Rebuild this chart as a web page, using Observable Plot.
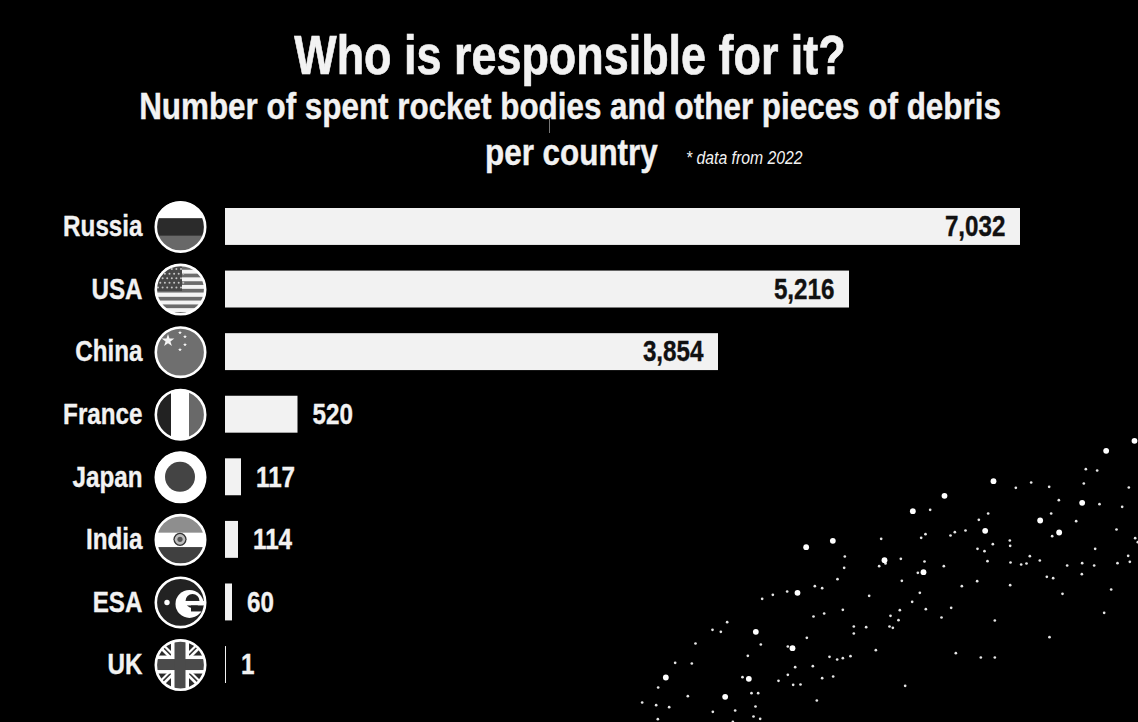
<!DOCTYPE html>
<html lang="en">
<head>
<meta charset="utf-8">
<title>Who is responsible for it?</title>
<script src="https://cdn.jsdelivr.net/npm/d3@7"></script>
<script src="https://cdn.jsdelivr.net/npm/@observablehq/plot@0.6"></script>
<style>
  html, body { margin: 0; padding: 0; background: #000; }
  #page { position: relative; width: 1138px; height: 722px; overflow: hidden; background: #000;
          font-family: "Liberation Sans", sans-serif; color: #f2f2f2; }
  header { position: relative; height: 195px; }
  header div { position: absolute; white-space: nowrap; font-weight: 700; }
  #t1 { left: 0; width: 1140px; text-align: center; top: 24px; font-size: 56px; line-height: 62px; transform: scaleX(0.802); -webkit-text-stroke: 0.7px #f2f2f2; }
  #t2 { left: 0; width: 1140px; text-align: center; top: 85px; font-size: 36px; line-height: 44px; transform: scaleX(0.872); -webkit-text-stroke: 0.4px #f2f2f2; }
  #t3 { left: 485px; top: 131px; font-size: 36px; line-height: 44px; transform: scaleX(0.872); transform-origin: left center; -webkit-text-stroke: 0.4px #f2f2f2; }
  #t4 { left: 686px; top: 147px; font-size: 19px; line-height: 22px; font-style: italic; font-weight: 400; transform: scaleX(0.83); transform-origin: left center; }
  #tick { position: absolute; left: 549px; top: 119px; width: 1px; height: 14px; background: #777; }
  #chart, #sky { position: absolute; }
  #chart { left: 0; top: 195px; }
  #sky { left: 640px; top: 430px; }
  svg { display: block; background: transparent !important; }
</style>
</head>
<body>
<div id="page">
  <header>
    <div id="t1">Who is responsible for it?</div>
    <div id="t2">Number of spent rocket bodies and other pieces of debris</div>
    <div id="t3">per country</div>
    <div id="t4">* data from 2022</div>
    <div id="tick"></div>
  </header>
  <div id="sky"></div>
  <div id="chart"></div>
</div>
<script>
const countries = ["Russia", "USA", "China", "France", "Japan", "India", "ESA", "UK"];
const debris = [7032, 5216, 3854, 520, 117, 114, 60, 1];

// Star field in sky units
const brightX = [1482,1397,1059,912,817,1325,1199,1256,1034,577,497,732,849,471,346,456,76,325,254];
const brightY = [31,61,152,196,242,217,270,306,301,331,350,389,425,487,604,653,741,745,799];
const faintX = [1336,1370,1172,1126,1226,1330,1465,869,1255,1377,1445,1043,1015,1232,1307,1428,975,943,930,855,842,722,1235,1484,1492,1108,1109,1057,1011,1032,1364,613,781,852,1041,1110,1168,1198,1142,1158,1280,1325,1361,1431,1468,1463,611,716,735,910,832,1219,1238,1324,591,784,1010,964,1109,523,545,440,397,365,686,838,1266,1412,815,932,607,778,856,551,519,750,903,774,1391,1063,640,677,747,757,640,260,216,241,499,1227,165,361,442,706,946,322,567,590,607,630,1021,1063,104,154,464,517,442,306,578,545,414,458,480,53,794,142,333,353,529,5,47,86,345,217,284,339,52,359,277];
const faintY = [116,120,156,172,169,159,171,238,209,221,229,249,268,249,272,297,300,305,315,311,322,325,317,323,335,330,346,341,355,362,355,378,385,393,392,396,377,390,402,399,405,398,405,398,394,376,412,407,399,407,427,439,443,431,446,451,452,467,464,467,473,483,493,505,496,487,490,477,514,532,538,539,536,549,558,556,561,569,547,570,588,590,588,592,609,575,598,604,622,620,639,642,648,659,668,676,679,687,683,677,681,681,697,699,710,707,733,740,738,743,751,763,762,771,766,797,788,788,810,816,824,830,828,844,840,858,866,865,874];

const rows = countries.map((country, i) => ({country, value: debris[i]}));
const bright = brightX.map((x, i) => ({x, y: brightY[i]}));
const faint = faintX.map((x, i) => ({x, y: faintY[i]}));

const LIGHT = "#f2f2f2";
const FONT = '"Liberation Sans", sans-serif';

const sky = Plot.plot({
  width: 498, height: 292,
  margin: 0,
  x: {domain: [0, 1494], axis: null},
  y: {domain: [0, 876], range: [0, 292], axis: null},
  style: {background: "transparent"},
  marks: [
    Plot.dot(faint, {x: "x", y: "y", r: 1.35, fill: "#e6e6e6"}),
    Plot.dot(bright, {x: "x", y: "y", r: 2.9, fill: "#fff"})
  ]
});
document.getElementById("sky").append(sky);

// Flag artwork, in icon units around the centre of each badge
function drawFlag(g, name) {
  const rect = (x, y, w, h, f) => g.append("rect").attr("x", x).attr("y", y).attr("width", w).attr("height", h).attr("fill", f);
  const disc = (x, y, r, f) => g.append("circle").attr("cx", x).attr("cy", y).attr("r", r).attr("fill", f);
  const star = (x, y, s, rot = 0) => g.append("path").attr("d", d3.symbol(d3.symbolStar, s)()).attr("fill", "#f4f4f4")
    .attr("transform", `translate(${x},${y}) rotate(${rot})`);
  if (name === "Russia") {
    rect(-26, -26, 52, 18, "#fff"); rect(-26, -8, 52, 17, "#2b2b2b"); rect(-26, 9, 52, 17, "#686868");
  } else if (name === "USA") {
    rect(-26, -26, 52, 52, "#f4f4f4");
    for (let k = 0; k < 7; k++) rect(-26, -23 + k * 7.6 + (k > 3 ? 0.4 : 0), 52, 3.7, "#6c6c6c");
    rect(-26, -26, 28, 28, "#474747");
    for (let r = 0; r < 5; r++) for (let c = 0; c < 6; c++) disc(-22 + c * 4.6 + (r % 2) * 2.3, -20 + r * 4.6, 1, "#c4c4c4");
  } else if (name === "China") {
    rect(-26, -26, 52, 52, "#6f6f6f");
    star(-12, -11, 50);
    star(0, -19, 5); star(5, -15, 5); star(5, -7, 5); star(0, -2, 5);
  } else if (name === "France") {
    rect(-26, -26, 17, 52, "#222"); rect(-9, -26, 18, 52, "#fff"); rect(9, -26, 17, 52, "#696969");
  } else if (name === "Japan") {
    rect(-26, -26, 52, 52, "#fff"); disc(0, 0, 15, "#444");
  } else if (name === "India") {
    rect(-26, -26, 52, 19, "#8e8e8e"); rect(-26, -7, 52, 15, "#fff"); rect(-26, 8, 52, 18, "#404040");
    disc(0, 0, 6.6, "#333"); disc(0, 0, 5.3, "#bbb"); disc(0, 0, 2.6, "#555");
  } else if (name === "ESA") {
    rect(-26, -26, 52, 52, "#222");
    disc(-13, 0.5, 2.7, "#fff");
    disc(9.5, 2, 14, "#fff");
    disc(12.5, -1, 7, "#222");
    rect(4, -1, 24, 4.5, "#fff");
    rect(11, 3.5, 15, 6, "#222");
  } else if (name === "UK") {
    rect(-26, -26, 52, 52, "#2a2a2a");
    for (const a of [45, -45]) rect(-40, -3.2, 80, 6.4, "#fff").attr("transform", `rotate(${a})`);
    for (const a of [45, -45]) rect(-40, -1, 80, 1.5, "#333").attr("transform", `rotate(${a})`);
    rect(-26, -9, 52, 18, "#fff"); rect(-9, -26, 18, 52, "#fff");
    rect(-26, -5.5, 52, 11, "#4b4b4b"); rect(-5.5, -26, 11, 52, "#4b4b4b");
  }
}

const chart = Plot.plot({
  width: 1138, height: 527,
  marginLeft: 225, marginRight: 118, marginTop: 13, marginBottom: 39,
  style: {background: "transparent", fontFamily: FONT},
  // The source draws its bars on a non-proportional scale: each value gets the length shown there
  x: {type: "linear", axis: null,
      domain: [0, 1, 60, 114, 117, 520, 3854, 5216, 7032],
      range: [225, 226, 232, 238, 241, 297.5, 718, 849, 1020]},
  y: {domain: countries, range: [13, 488], paddingInner: 0.41, paddingOuter: 0, round: false, axis: null},
  marks: [
    Plot.axisY({anchor: "left", tickSize: 0, tickPadding: 83, fontSize: 29, fontWeight: 700, fill: LIGHT, fontFamily: FONT, label: null}),
    Plot.barX(rows, {x: "value", y: "country", fill: LIGHT}),
    Plot.text(rows.filter(d => d.value >= 1000), {
      x: "value", y: "country", text: d => d3.format(",")(d.value), textAnchor: "end", dx: -15,
      fontSize: 29, fontWeight: 700, fontFamily: FONT, fill: "#111"
    }),
    Plot.text(rows.filter(d => d.value < 1000), {
      x: "value", y: "country", text: d => d3.format(",")(d.value), textAnchor: "start", dx: 14.5,
      fontSize: 29, fontWeight: 700, fontFamily: FONT, fill: LIGHT
    }),
    Plot.dot(rows, {
      y: "country", frameAnchor: "left", dx: -45, r: 24.7, stroke: "#fff", strokeWidth: 2.6, fill: "none",
      render(index, scales, values, dimensions, context, next) {
        const ring = next(index, scales, values, dimensions, context);
        const wrap = d3.create("svg:g");
        const cx = dimensions.marginLeft - 45;
        const half = scales.scales.y.bandwidth / 2;
        for (const i of index) {
          const cy = values.y[i] + half;
          const id = "flag-clip-" + i;
          const g = wrap.append("g").attr("transform", `translate(${cx},${cy})`);
          g.append("clipPath").attr("id", id).append("circle").attr("r", 25);
          const inner = g.append("g").attr("clip-path", `url(#${id})`);
          drawFlag(inner, rows[i].country);
        }
        wrap.node().append(ring);
        return wrap.node();
      }
    })
  ]
});
document.getElementById("chart").append(chart);

// Only wide fonts are installed: condense the chart's labels to the narrow face of the reference
chart.querySelectorAll("text").forEach(t => {
  const len = t.getComputedTextLength();
  t.setAttribute("textLength", (len * 0.835).toFixed(1));
  t.setAttribute("lengthAdjust", "spacingAndGlyphs");
  t.style.strokeWidth = "0.35px";
  t.style.stroke = "currentColor";
  t.style.paintOrder = "stroke";
});
chart.querySelectorAll("text").forEach(t => { t.style.stroke = t.closest("[fill]").getAttribute("fill"); });
</script>
</body>
</html>
